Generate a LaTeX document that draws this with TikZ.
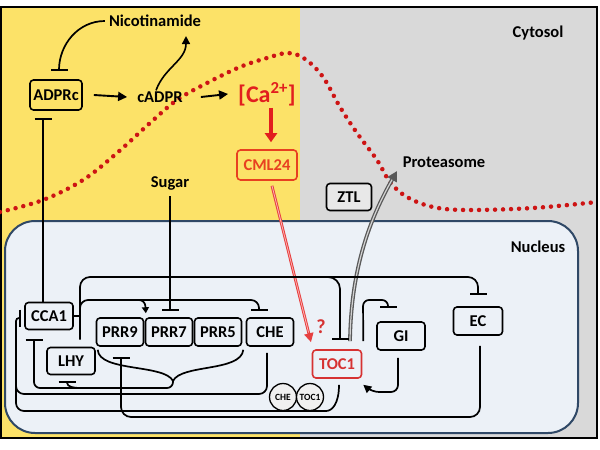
\documentclass[tikz,border=0pt]{standalone}
\usepackage{fontspec}
\setmainfont{Carlito}
\usetikzlibrary{arrows.meta}
\definecolor{yel}{RGB}{252,226,104}
\definecolor{gry}{RGB}{217,217,217}
\definecolor{nuc}{RGB}{236,241,247}
\definecolor{nucb}{RGB}{47,72,102}
\definecolor{redc}{RGB}{226,30,30}
\definecolor{cmlc}{RGB}{232,64,32}
\definecolor{tocc}{RGB}{214,50,50}
\definecolor{dotred}{RGB}{205,20,20}
\begin{document}
\begin{tikzpicture}[x=1pt,y=-1pt,
  box/.style={draw, line width=1.6pt, rounded corners=3.5pt, fill=nuc,
    font=\fontsize{16.5}{18}\selectfont\bfseries, inner sep=0pt,
    minimum width=48pt, minimum height=28pt},
  lbl/.style={font=\fontsize{16.5}{18}\selectfont\bfseries, inner sep=1pt},
  con/.style={draw, line width=1.7pt, rounded corners=8pt},
  inh/.style={con, -{Bar[width=17pt,line width=1.8pt]}},
  act/.style={con, -{Triangle[length=8pt,width=8pt]}},
  cplx/.style={circle, draw, line width=1.3pt, fill=gray!12, minimum size=27pt,
    inner sep=0pt, font=\fontsize{9.5}{10}\selectfont\bfseries},
]
\useasboundingbox (0,0) rectangle (600,450);
\fill[white] (0,0) rectangle (600,450);
\fill[yel] (0,7) rectangle (300,438);
\fill[gry] (300,7) rectangle (597,438);
\draw[nucb, fill=nuc, line width=2pt, rounded corners=30pt] (5,221) rectangle (578,433);
\draw[line width=2pt] (1,7) rectangle (597,438);

% membrane (dotted)
\draw[dotred, line width=4.5pt, line cap=round, dash pattern=on 0pt off 8pt]
  plot[smooth, tension=0.6] coordinates {(0,212) (43,200) (83,180) (117,153) (150,123)
  (177,100) (207,83) (240,67) (267,58) (288,53) (305,59) (323,77) (340,107) (357,133)
  (377,160) (390,182) (407,197) (433,207) (467,210) (533,208) (597,202)};

% cytosol nodes
\node[lbl] (nico) at (155,21) {Nicotinamide};
\node[box, fill=none, minimum width=52pt, minimum height=30pt] (adprc) at (56,95) {ADPRc};
\node[lbl] (cadpr) at (160,97) {cADPR};
\node[lbl, text=redc, font=\fontsize{24}{26}\selectfont\bfseries] (ca) at (267,94) {[Ca\textsuperscript{2+}]};
\node[box, fill=none, draw=cmlc, text=cmlc, minimum width=60pt, minimum height=30pt] (cml) at (267,165) {CML24};
\node[lbl] (sugar) at (170,183) {Sugar};
\node[lbl] (cyto) at (538,33) {Cytosol};
\node[lbl] (prot) at (444,162) {Proteasome};
\node[box, fill=gray!18, minimum width=45pt, minimum height=27pt] (ztl) at (349,197) {ZTL};
\node[lbl] (nucl) at (538,247) {Nucleus};

% nucleus nodes
\node[box, minimum height=27pt] (cca1) at (49,316) {CCA1};
\node[box, minimum height=27pt] (lhy) at (71,361) {LHY};
\node[box, minimum width=47pt] (prr9) at (120,332) {PRR9};
\node[box, minimum width=47pt] (prr7) at (169,332) {PRR7};
\node[box, minimum width=47pt] (prr5) at (218,332) {PRR5};
\node[box, minimum width=47pt] (che) at (270,332) {CHE};
\node[box, draw=tocc, text=tocc, minimum width=49pt] (toc1) at (337,364) {TOC1};
\node[box] (gi) at (401,336) {GI};
\node[box, minimum width=49pt] (ec) at (478,321) {EC};
\node[cplx] (chec) at (283,397) {CHE};
\node[cplx] (tocc1) at (310,397) {TOC1};
\node[text=tocc, font=\fontsize{20}{22}\selectfont\bfseries, inner sep=0pt] (q) at (321,327) {?};

% cytosol connectors
\draw[act, line width=1.9pt, -{Triangle[length=9pt,width=9pt]}] ([xshift=11pt]adprc.east) -- ([xshift=-9pt]cadpr.west);
\draw[act, line width=1.9pt, -{Triangle[length=9pt,width=9pt]}] ([xshift=17pt]cadpr.east) -- ([xshift=-9pt]ca.west);
\draw[line width=1.6pt, -{Triangle[length=8pt,width=8pt]}] ([xshift=-4pt]cadpr.north)
  to[out=70,in=-90] ([xshift=31pt,yshift=-8pt]nico.south);
\draw[inh] ([xshift=-3pt]nico.west) to[out=180,in=90] ([xshift=3pt,yshift=8pt]adprc.north);
\draw[redc, line width=3.8pt, -{Triangle[length=9pt,width=12pt]}]
  ([xshift=4pt,yshift=-1pt]ca.south) -- ([xshift=4pt,yshift=7pt]cml.north);
\draw[redc!85, line width=2.8pt, -{Triangle[length=9pt,width=9pt]}]
  ([xshift=5pt,yshift=-5pt]cml.south) -- ([xshift=-26pt,yshift=7pt]toc1.north);
\draw[red!30, line width=0.8pt, shorten >=10pt]
  ([xshift=5pt,yshift=-5pt]cml.south) -- ([xshift=-26pt,yshift=7pt]toc1.north);
\coordinate (ptip) at (397,171);
\draw[black!65, line width=3.8pt, -{Triangle[length=10pt,width=10pt]}]
  ([xshift=13pt,yshift=8pt]toc1.north) .. controls (351,265) and (372,215) .. (ptip);
\draw[gray!35, line width=1.2pt, shorten >=10pt]
  ([xshift=13pt,yshift=8pt]toc1.north) .. controls (351,265) and (372,215) .. (ptip);

% nucleus connectors
\draw[inh] ([xshift=-6pt]cca1.north) -- ([xshift=-13pt,yshift=-7pt]adprc.south);
\draw[con] (cca1.east) -- (80,316);
\draw[inh, rounded corners=10pt] ([xshift=9pt,yshift=7pt]lhy.north) -- (80,277) -- (478,277) -- ([yshift=11pt]ec.north);
\draw[inh, rounded corners=12pt] (318,277) -- (340,277) -- ([xshift=3pt,yshift=9pt]toc1.north);
\draw[inh, rounded corners=8pt] (80,314) -- (80,300) -- (259,300) -- ([xshift=-11pt,yshift=6pt]che.north);
\draw[con, rounded corners=6pt, -{Triangle[length=6pt,width=7pt]}] (128,300) -- (145,300) -- ([xshift=1.5pt,yshift=4pt]prr9.north east);
\draw[inh] ([yshift=-5pt]sugar.south) -- ([xshift=1pt,yshift=6pt]prr7.north);

\coordinate (cusp) at (173,381);
\draw[con] ([xshift=2pt,yshift=-3pt]prr9.south west) .. controls (99,372) and (165,364) .. (cusp);
\draw[con] ([xshift=1pt,yshift=-3pt]prr5.south east) .. controls (241,372) and (181,364) .. (cusp);
\draw[inh, rounded corners=6pt] (cusp) -- (173,388) -- (34,388) -- ([xshift=-15pt,yshift=-9pt]cca1.south);
\draw[inh] (80,388) to[out=180,in=-90] ([xshift=-4pt,yshift=-6pt]lhy.south);

\draw[inh, rounded corners=8pt] ([xshift=-3pt,yshift=-6pt]che.south) -- (267,394) -- (16,394)
  [rounded corners=3pt] -- (16,318) -- ([xshift=-3pt,yshift=-2pt]cca1.west);
\draw[con, rounded corners=8pt] ([xshift=2pt,yshift=-6pt]toc1.south) .. controls (339,404) and (332,411) .. (318,411)
  -- (16,411) -- (16,385);
\draw[inh, rounded corners=10pt] ([xshift=2pt,yshift=-10pt]ec.south) -- (480,417) -- (121,417) -- ([xshift=1pt,yshift=-10pt]prr9.south);
\draw[act, rounded corners=7pt] ([xshift=-3pt,yshift=-7pt]gi.south) -- (398,392) -- (372,392)
  [rounded corners=2pt] -- ([xshift=1pt,yshift=-6pt]toc1.south east);
\draw[inh, rounded corners=6pt] ([xshift=1pt,yshift=8pt]toc1.north east) -- (363,300) -- (388,300) -- ([xshift=-13pt,yshift=13pt]gi.north);
\end{tikzpicture}
\end{document}
